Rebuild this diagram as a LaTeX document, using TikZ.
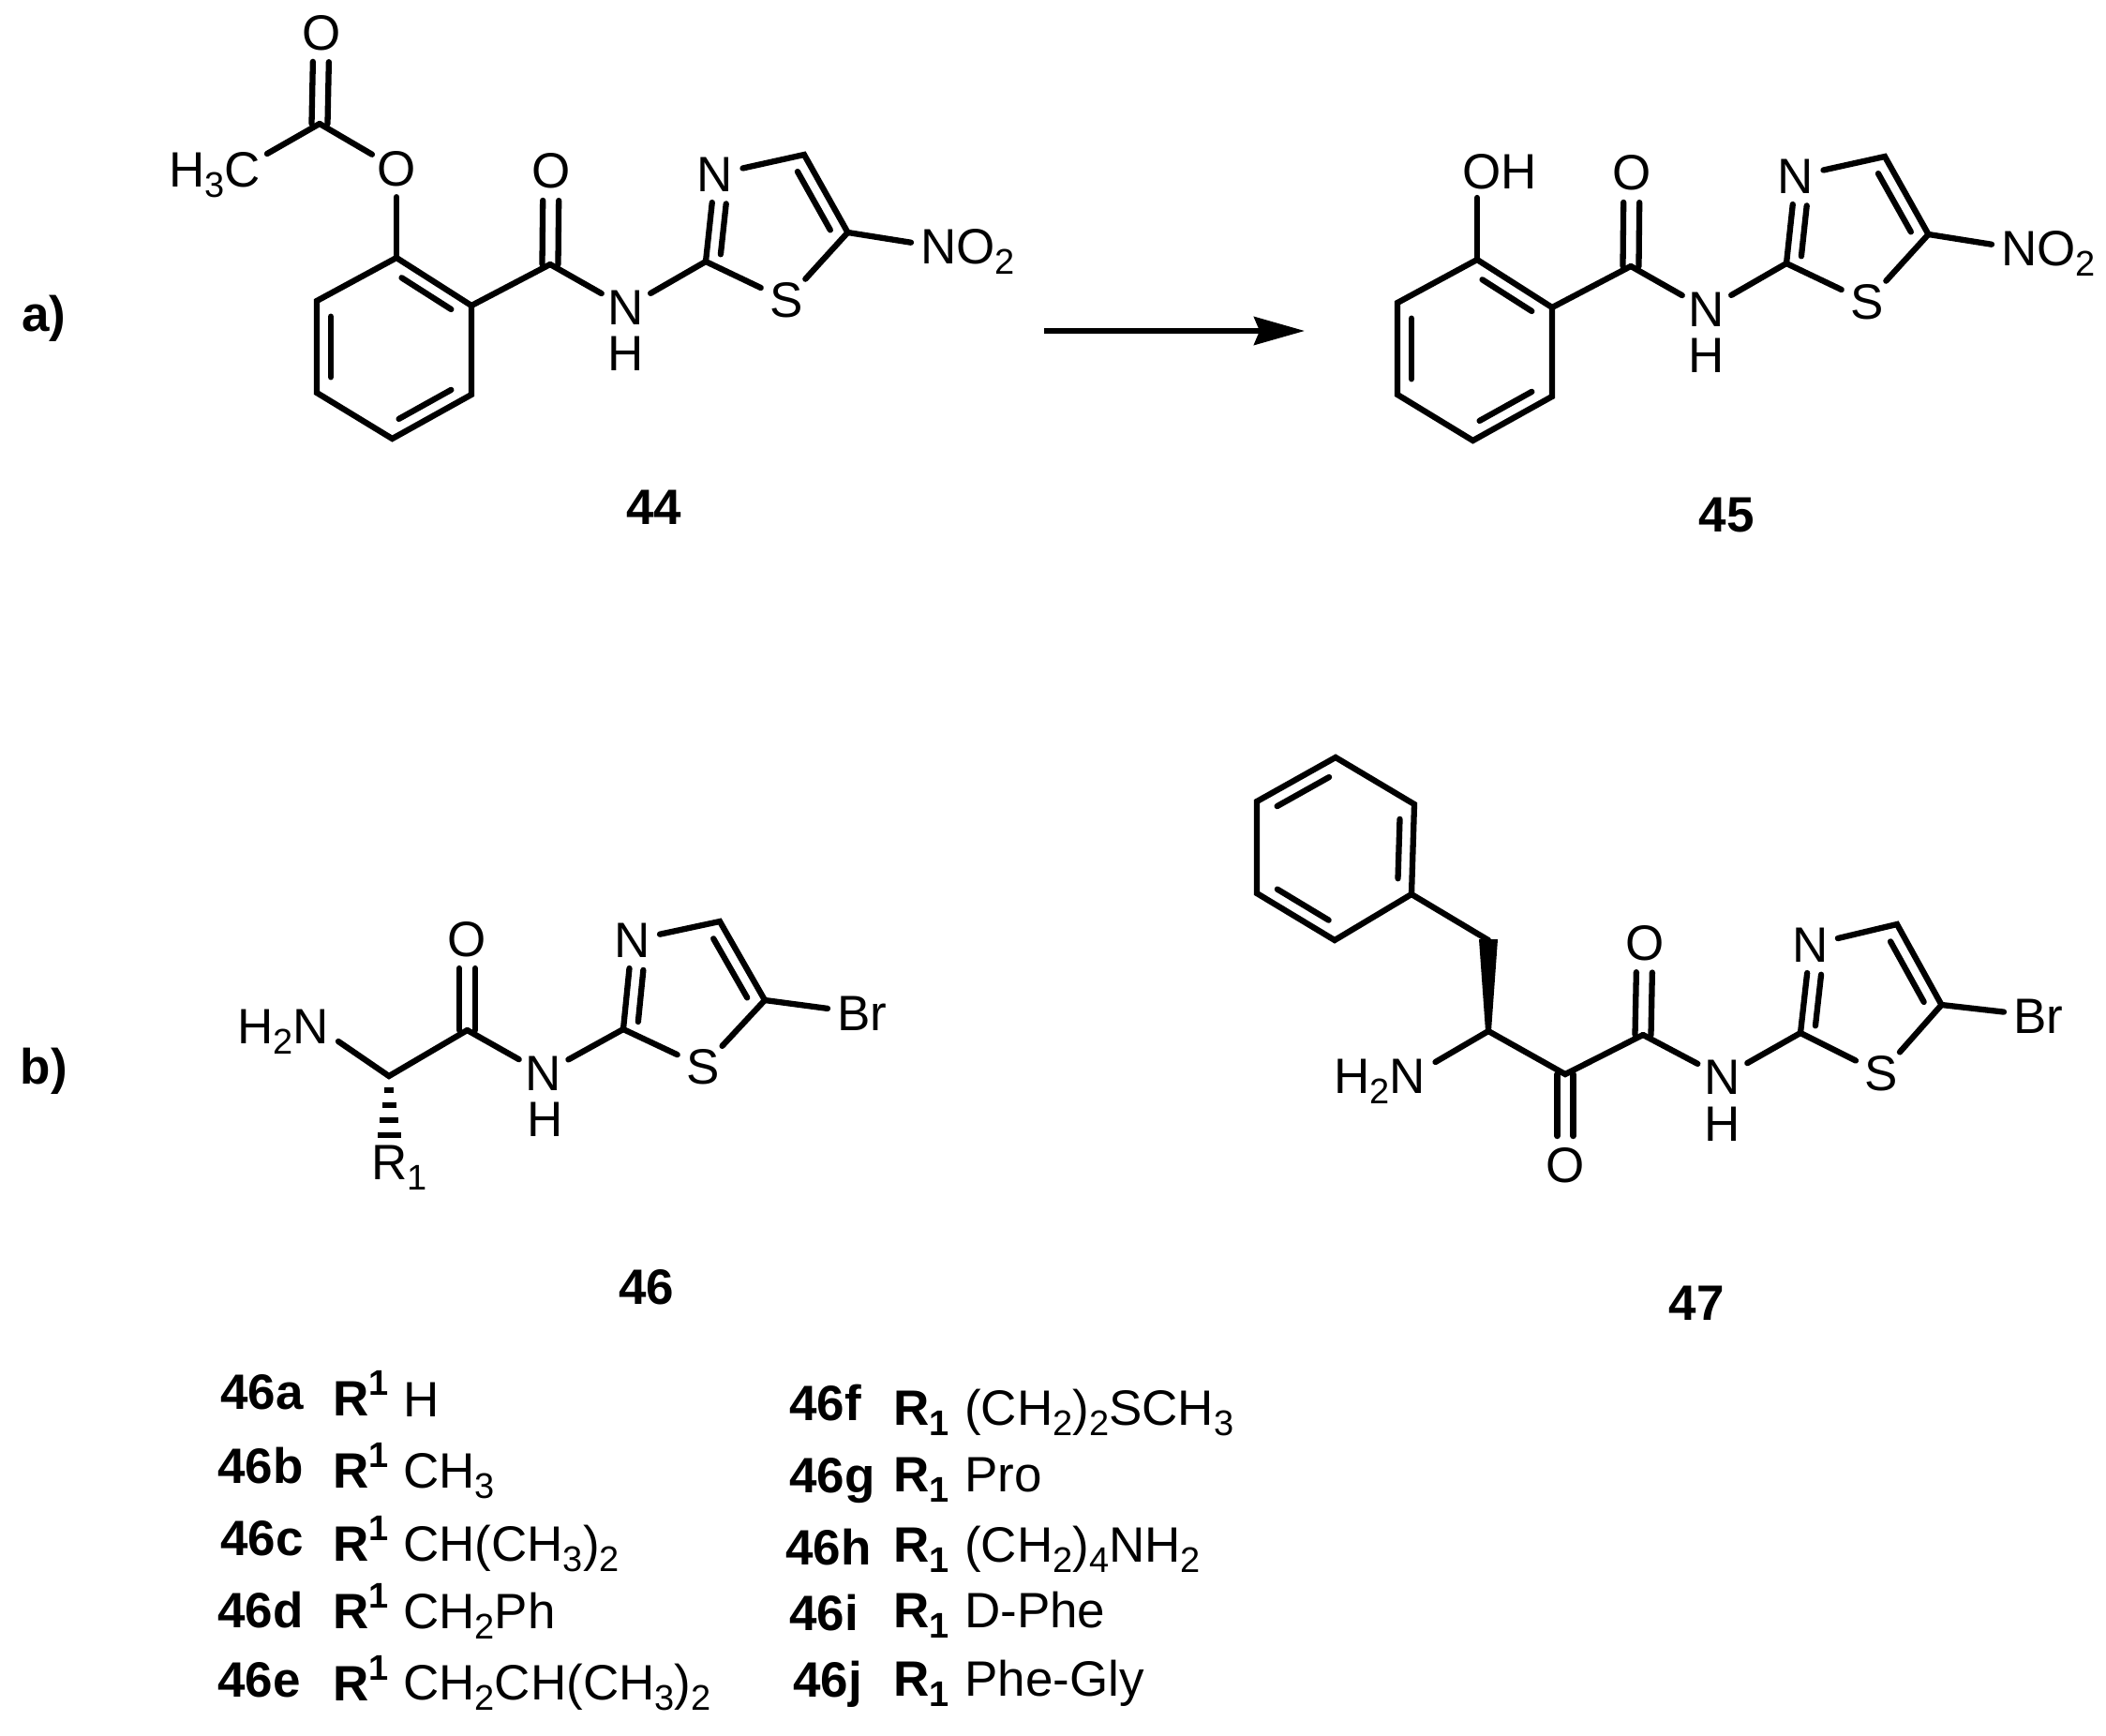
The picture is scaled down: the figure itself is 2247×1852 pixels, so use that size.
\documentclass[tikz,border=0pt]{standalone}
\usepackage{fontspec}
\setmainfont{Liberation Sans}
\usetikzlibrary{calc,arrows.meta}
\newcommand{\sbs}[1]{\raisebox{-0.22em}{\fontsize{38}{38}\selectfont\mdseries #1}}
\newcommand{\sps}[1]{\raisebox{0.4em}{\fontsize{38}{38}\selectfont\bfseries #1}}
\newcommand{\inbond}[4]{\draw[bond] ($(#1)!#3!(#2)!15pt!-90:(#2)$) -- ($(#1)!#4!(#2)!15pt!-90:(#2)$);}
\newcommand{\cobond}[2]{%
  \draw[bond] ($(#1)!0!(#2)!8.5pt!90:(#2)$) -- ($(#1)!0.68!(#2)!8.5pt!90:(#2)$);
  \draw[bond] ($(#1)!0!(#2)!8.5pt!-90:(#2)$) -- ($(#1)!0.68!(#2)!8.5pt!-90:(#2)$);}
\tikzset{
  every node/.style={font=\fontsize{53}{57}\selectfont, text=black},
  bond/.style={draw=black, line width=6.3pt, line cap=round, line join=miter},
  atom/.style={circle, minimum size=60pt, inner sep=0pt},
  grp/.style={anchor=base west, inner sep=10pt},
  tag/.style={font=\fontsize{53}{57}\selectfont\bfseries},
  rowl/.style={anchor=base west, inner sep=0pt, font=\fontsize{53}{57}\selectfont\bfseries},
  rowt/.style={anchor=base west, inner sep=0pt}
}
\newcommand{\thz}[8]{%
  \node[atom] (#1N) at #3 {N};
  \node[atom] (#1H) at #4 {H};
  \coordinate (#1C2) at #5;
  \node[atom] (#1Nr) at #6 {N};
  \coordinate (#1C4) at #7;
  \coordinate (#1C5) at #8;
  \draw[bond] (#2) -- (#1N);
  \draw[bond] (#1N) -- (#1C2);
}
\newcommand{\thzS}[2]{%
  \node[atom] (#1S) at #2 {S};
  \draw[bond] (#1C2) -- (#1Nr);
  \draw[bond] (#1Nr) -- (#1C4) -- (#1C5) -- (#1S) -- (#1C2);
  \inbond{#1C2}{#1Nr}{0.1}{0.68}
  \inbond{#1C4}{#1C5}{0.13}{0.88}
}
\newcommand{\benz}[7]{%
  \coordinate (#1a) at #2; \coordinate (#1b) at #3; \coordinate (#1c) at #4;
  \coordinate (#1d) at #5; \coordinate (#1e) at #6; \coordinate (#1f) at #7;
  \draw[bond] (#1a) -- (#1b) -- (#1c) -- (#1d) -- (#1e) -- (#1f) -- cycle;
}
\begin{document}
\begin{tikzpicture}[x=1pt,y=-1pt]
\useasboundingbox (0,0) rectangle (2247,1852);
\fill[white] (0,0) rectangle (2247,1852);

% ---------- 44 ----------
\benz{A}{(423,275)}{(503,326)}{(503,421)}{(418.5,468)}{(338,419)}{(338,321)}
\inbond{Aa}{Ab}{0.17}{0.83}
\inbond{Ac}{Ad}{0.17}{0.83}
\inbond{Ae}{Af}{0.17}{0.83}
\node[atom] (AOe) at (423,180) {O};
\coordinate (AAc) at (341,132);
\node[atom] (AOa) at (343,35) {O};
\node[grp] (AMe) at (170,199) {H\sbs{3}C};
\coordinate (AAm) at (587,282);
\node[atom] (AOm) at (588,182) {O};
\draw[bond] (Aa) -- (AOe);
\draw[bond] (AOe) -- (AAc);
\draw[bond] (AAc) -- (285,164);
\cobond{AAc}{AOa}
\draw[bond] (Ab) -- (AAm);
\cobond{AAm}{AOm}
\thz{A}{AAm}{(668,328)}{(668,377)}{(753,279)}{(763,186)}{(858,165)}{(904.5,248)}
\thzS{A}{(839,320)}
\node[grp] (ANO) at (972,281) {NO\sbs{2}};
\draw[bond] (AC5) -- (ANO);

% ---------- arrow ----------
\coordinate (arrL) at (1114,353);
\coordinate (arrR) at (1392,353);
\draw[line width=5.7pt, -{Stealth[length=54pt,width=30pt,inset=6pt]}] (arrL) -- (arrR);

% ---------- 45 ----------
\begin{scope}[shift={(1153,2)}]
\benz{B}{(423,275)}{(503,326)}{(503,421)}{(418.5,468)}{(338,419)}{(338,321)}
\inbond{Ba}{Bb}{0.17}{0.83}
\inbond{Bc}{Bd}{0.17}{0.83}
\inbond{Be}{Bf}{0.17}{0.83}
\node[anchor=base west, inner sep=10pt] (BOH) at (397,199) {OH};
\coordinate (BAm) at (587,282);
\node[atom] (BOm) at (588,182) {O};
\draw[bond] (Ba) -- (423,209);
\draw[bond] (Bb) -- (BAm);
\cobond{BAm}{BOm}
\thz{B}{BAm}{(668,328)}{(668,377)}{(753,279)}{(763,186)}{(858,165)}{(904.5,248)}
\thzS{B}{(839,320)}
\node[grp] (BNO) at (972,281) {NO\sbs{2}};
\draw[bond] (BC5) -- (BNO);
\end{scope}

% ---------- 46 ----------
\coordinate (CCh) at (415,1148);
\coordinate (CAm) at (498.5,1099);
\node[atom] (COm) at (498.5,1002) {O};
\node[grp] (CNH) at (243,1113) {H\sbs{2}N};
\draw[bond] (361,1111) -- (CCh) -- (CAm);
\cobond{CAm}{COm}
\thz{C}{CAm}{(580,1145)}{(582,1194)}{(665,1098)}{(674.5,1003)}{(768,983)}{(816,1067)}
\thzS{C}{(750,1138)}
\node[grp] (CBr) at (883,1099) {Br};
\draw[bond] (CC5) -- (CBr);
\node[rowt] (CR) at (396,1258) {R\sbs{1}};
\foreach \yy/\ww in {1163/10,1179/15,1195/20,1211/25}
  \fill[black] (415-\ww/2,\yy-3) rectangle (415+\ww/2,\yy+3);

% ---------- 47 ----------
\benz{D}{(1425,808)}{(1509,858)}{(1506,954)}{(1424,1003)}{(1341,953)}{(1341,855)}
\inbond{Db}{Dc}{0.17}{0.83}
\inbond{Dd}{De}{0.17}{0.83}
\inbond{Df}{Da}{0.17}{0.83}
\coordinate (DCH) at (1588,1003);
\coordinate (DCh) at (1588,1100);
\coordinate (DKe) at (1670,1146);
\node[atom] (DOk) at (1670,1243) {O};
\coordinate (DAm) at (1753,1104);
\node[atom] (DOm) at (1755,1006) {O};
\draw[bond] (Dc) -- (DCH);
\fill[black] (DCh) -- ++(-3,0) -- (1578,1002) -- (1598,1002) -- ++(-7,98) -- cycle;
\draw[bond] (1531.5,1133) -- (DCh) -- (DKe) -- (DAm);
\cobond{DKe}{DOk}
\cobond{DAm}{DOm}
\thz{D}{DAm}{(1838,1149)}{(1838,1199)}{(1921,1102)}{(1931.5,1008)}{(2024,986)}{(2071.5,1072)}
\thzS{D}{(2007,1145)}
\node[grp] (DBr) at (2138,1102) {Br};
\draw[bond] (DC5) -- (DBr);
\node[grp] (DNH) at (1413,1166) {H\sbs{2}N};

% ---------- labels ----------
\node[tag] (la) at (47,340) {a)};
\node[tag] (lb) at (47,1143) {b)};
\node[tag] (l44) at (698,541) {44};
\node[tag] (l45) at (1842,550) {45};
\node[tag] (l46) at (690,1373) {46};
\node[tag] (l47) at (1810,1390) {47};

% ---------- table left ----------
\node[rowl] (ra) at (235,1503) {46a};
\node[rowl] (rb) at (232,1582) {46b};
\node[rowl] (rc) at (235,1659) {46c};
\node[rowl] (rd) at (232,1736) {46d};
\node[rowl] (re) at (232,1810) {46e};
\node[rowl] (sa) at (355,1510) {R\sps{1}};
\node[rowl] (sb) at (355,1587) {R\sps{1}};
\node[rowl] (sc) at (355,1665) {R\sps{1}};
\node[rowl] (sd) at (355,1737) {R\sps{1}};
\node[rowl] (se) at (355,1814) {R\sps{1}};
\node[rowt] (ta) at (430,1511) {H};
\node[rowt] (tb) at (430,1587) {CH\sbs{3}};
\node[rowt] (tc) at (430,1665) {CH(CH\sbs{3})\sbs{2}};
\node[rowt] (td) at (430,1737) {CH\sbs{2}Ph};
\node[rowt] (te) at (430,1813) {CH\sbs{2}CH(CH\sbs{3})\sbs{2}};

% ---------- table right ----------
\node[rowl] (rf) at (842,1515) {46f};
\node[rowl] (rg) at (842,1592) {46g};
\node[rowl] (rh) at (838,1669) {46h};
\node[rowl] (ri) at (842,1739) {46i};
\node[rowl] (rj) at (846,1810) {46j};
\node[rowl] (sf) at (953,1520) {R\sbs{\bfseries 1}};
\node[rowl] (sg) at (953,1591) {R\sbs{\bfseries 1}};
\node[rowl] (sh) at (953,1666) {R\sbs{\bfseries 1}};
\node[rowl] (si) at (953,1736) {R\sbs{\bfseries 1}};
\node[rowl] (sj) at (953,1809) {R\sbs{\bfseries 1}};
\node[rowt] (tf) at (1029,1520) {(CH\sbs{2})\sbs{2}SCH\sbs{3}};
\node[rowt] (tg) at (1029,1591) {Pro};
\node[rowt] (th) at (1029,1666) {(CH\sbs{2})\sbs{4}NH\sbs{2}};
\node[rowt] (ti) at (1029,1736) {D-Phe};
\node[rowt] (tj) at (1029,1809) {Phe-Gly};
\end{tikzpicture}
\end{document}
